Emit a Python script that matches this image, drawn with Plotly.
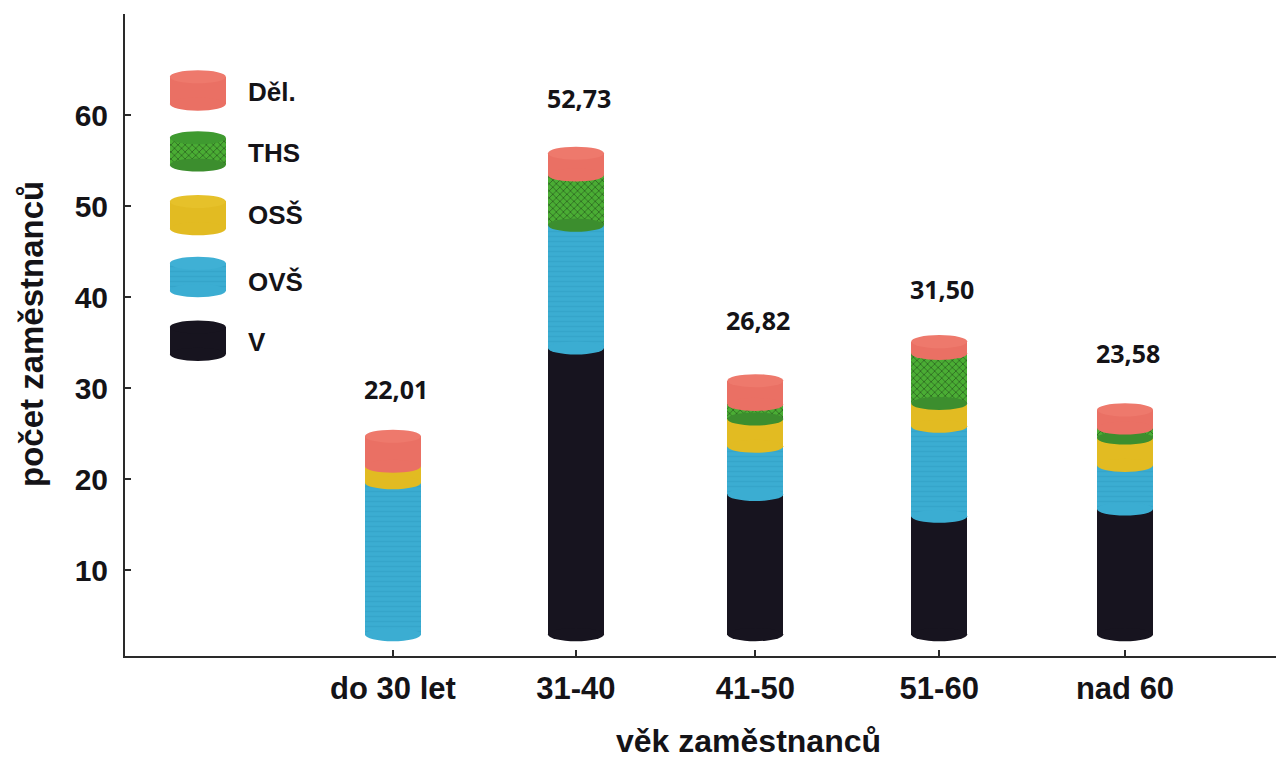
import plotly.graph_objects as go

categories = ["do 30 let", "31-40", "41-50", "51-60", "nad 60"]
series_names = ["V", "OVŠ", "OSŠ", "THS", "Děl."]
v_values = [0, 31.5, 15.4, 13.0, 13.8]
ovs_values = [16.7, 13.5, 5.3, 9.9, 4.8]
oss_values = [1.8, 0, 3.0, 2.5, 3.0]
ths_values = [0, 5.5, 1.6, 5.5, 1.1]
del_values = [3.3, 2.4, 2.6, 1.3, 2.0]
total_labels = ["22,01", "52,73", "26,82", "31,50", "23,58"]
y_ticks = [10, 20, 30, 40, 50, 60]

# layout / style (not data)
BASE = 2.9
BAR_X = [0, 1, 1.98, 2.985, 4.0]
BAR_W = 0.306
CAP = 0.72
Y_RANGE = [0.55, 71.1]
X_RANGE = [-1.464, 4.825]
FONT = "Liberation Sans"
LABEL_FONT = "Open Sans"
INK = "#141317"
SERIES = [
    (v_values, "#17141f", "#17141f", "#17141f", "", "#17141f"),
    (ovs_values, "#3badd2", "#2f9dc2", "#3fb0d5", "-", "#3badd2"),
    (oss_values, "#e2bb22", "#e2bb22", "#e6c12a", "", "#e2bb22"),
    (ths_values, "#4aad34", "#10240e", "#3f9a30", "x", "#3c8e2e"),
    (del_values, "#ea7064", "#ea7064", "#ee796c", "", "#ea7064"),
]
LEGEND_X = -1.066
LEGEND_Y = [35.2, 42.2, 49.0, 56.0, 62.7]
LEGEND_TEXT_Y = [35.05, 41.6, 49.0, 55.8, 62.5]
LEGEND_H = 3.0
LABEL_SHIFT = [47, 55, 61, 53, 57]

fig = go.Figure()
shapes = []


def ellipse(x, y, fill):
    return dict(type="circle", xref="x", yref="y", x0=x - BAR_W / 2, x1=x + BAR_W / 2,
                y0=y - CAP, y1=y + CAP, fillcolor=fill, line_width=0, layer="above")


bottoms = [BASE] * len(categories)
for (vals, col, fg, cap, pat, edge), name in zip(SERIES, series_names):
    fig.add_bar(x=BAR_X, y=vals, base=bottoms, width=BAR_W, name=name, showlegend=False,
                marker=dict(color=col, line_width=0,
                            pattern=dict(shape=pat, fgcolor=fg, bgcolor=col, size=5, solidity=0.3)))
    for i, v in enumerate(vals):
        if v > 0:
            shapes.append(ellipse(BAR_X[i], bottoms[i], edge))
    bottoms = [b + v for b, v in zip(bottoms, vals)]
tops = bottoms
del_cap = SERIES[-1][3]
for x, t in zip(BAR_X, tops):
    shapes.append(ellipse(x, t, del_cap))

# hand-built key, same cylinders as the chart
for (vals, col, fg, cap, pat, edge), name, ly in zip(SERIES, series_names, LEGEND_Y):
    fig.add_bar(x=[LEGEND_X], y=[LEGEND_H], base=[ly - LEGEND_H / 2], width=BAR_W, showlegend=False,
                marker=dict(color=col, line_width=0,
                            pattern=dict(shape=pat, fgcolor=fg, bgcolor=col, size=5, solidity=0.3)))
    shapes.append(ellipse(LEGEND_X, ly - LEGEND_H / 2, edge))
    shapes.append(ellipse(LEGEND_X, ly + LEGEND_H / 2, cap))

annotations = [
    dict(x=x, y=t, text=f"<b>{lab}</b>", showarrow=False, yshift=s, xshift=3, yanchor="middle",
         font=dict(family=LABEL_FONT, size=25, color=INK))
    for x, t, lab, s in zip(BAR_X, tops, total_labels, LABEL_SHIFT)
]
annotations += [
    dict(x=LEGEND_X, y=ty, text=f"<b>{n}</b>", showarrow=False, xanchor="left", xshift=48,
         font=dict(family=FONT, size=26, color=INK))
    for n, ty in zip(series_names, LEGEND_TEXT_Y)
]
# axis titles sit off-centre in the reference, so they are placed as annotations
annotations += [
    dict(xref="paper", yref="paper", x=(748 - 125) / 1151, y=1 + (14 - 741) / 642, text="<b>věk zaměstnanců</b>",
         showarrow=False, xanchor="center", yanchor="middle", font=dict(family=FONT, size=32, color=INK)),
    dict(xref="paper", yref="paper", x=(31 - 125) / 1151, y=1 + (14 - 334) / 642, text="<b>počet zaměstnanců</b>",
         showarrow=False, textangle=-90, xanchor="center", yanchor="middle", font=dict(family=FONT, size=33, color=INK)),
]

fig.update_layout(
    width=1276, height=760, margin=dict(l=125, r=0, t=14, b=104),
    paper_bgcolor="white", plot_bgcolor="white", barmode="overlay", bargap=0,
    shapes=shapes, annotations=annotations,
    font=dict(family=FONT, color=INK),
    xaxis=dict(range=X_RANGE, tickmode="array", tickvals=BAR_X, ticktext=[f"<b>{c}</b>" for c in categories],
               tickfont=dict(size=31), showgrid=False, zeroline=False, showline=True, linecolor="#2a2a2a",
               linewidth=2, ticks="inside", ticklen=6, tickcolor="#2a2a2a", tickwidth=2, ticklabelstandoff=4),
    yaxis=dict(range=Y_RANGE, tickmode="array", tickvals=y_ticks, ticktext=[f"<b>{t}</b>" for t in y_ticks],
               tickfont=dict(size=30), showgrid=False, zeroline=False, showline=True, linecolor="#2a2a2a",
               linewidth=2, ticks="inside", ticklen=6, tickcolor="#2a2a2a", tickwidth=2, ticklabelstandoff=9),
)
fig.write_html("out.html", post_script="document.body.style.margin='0';", config={"displayModeBar": False})
